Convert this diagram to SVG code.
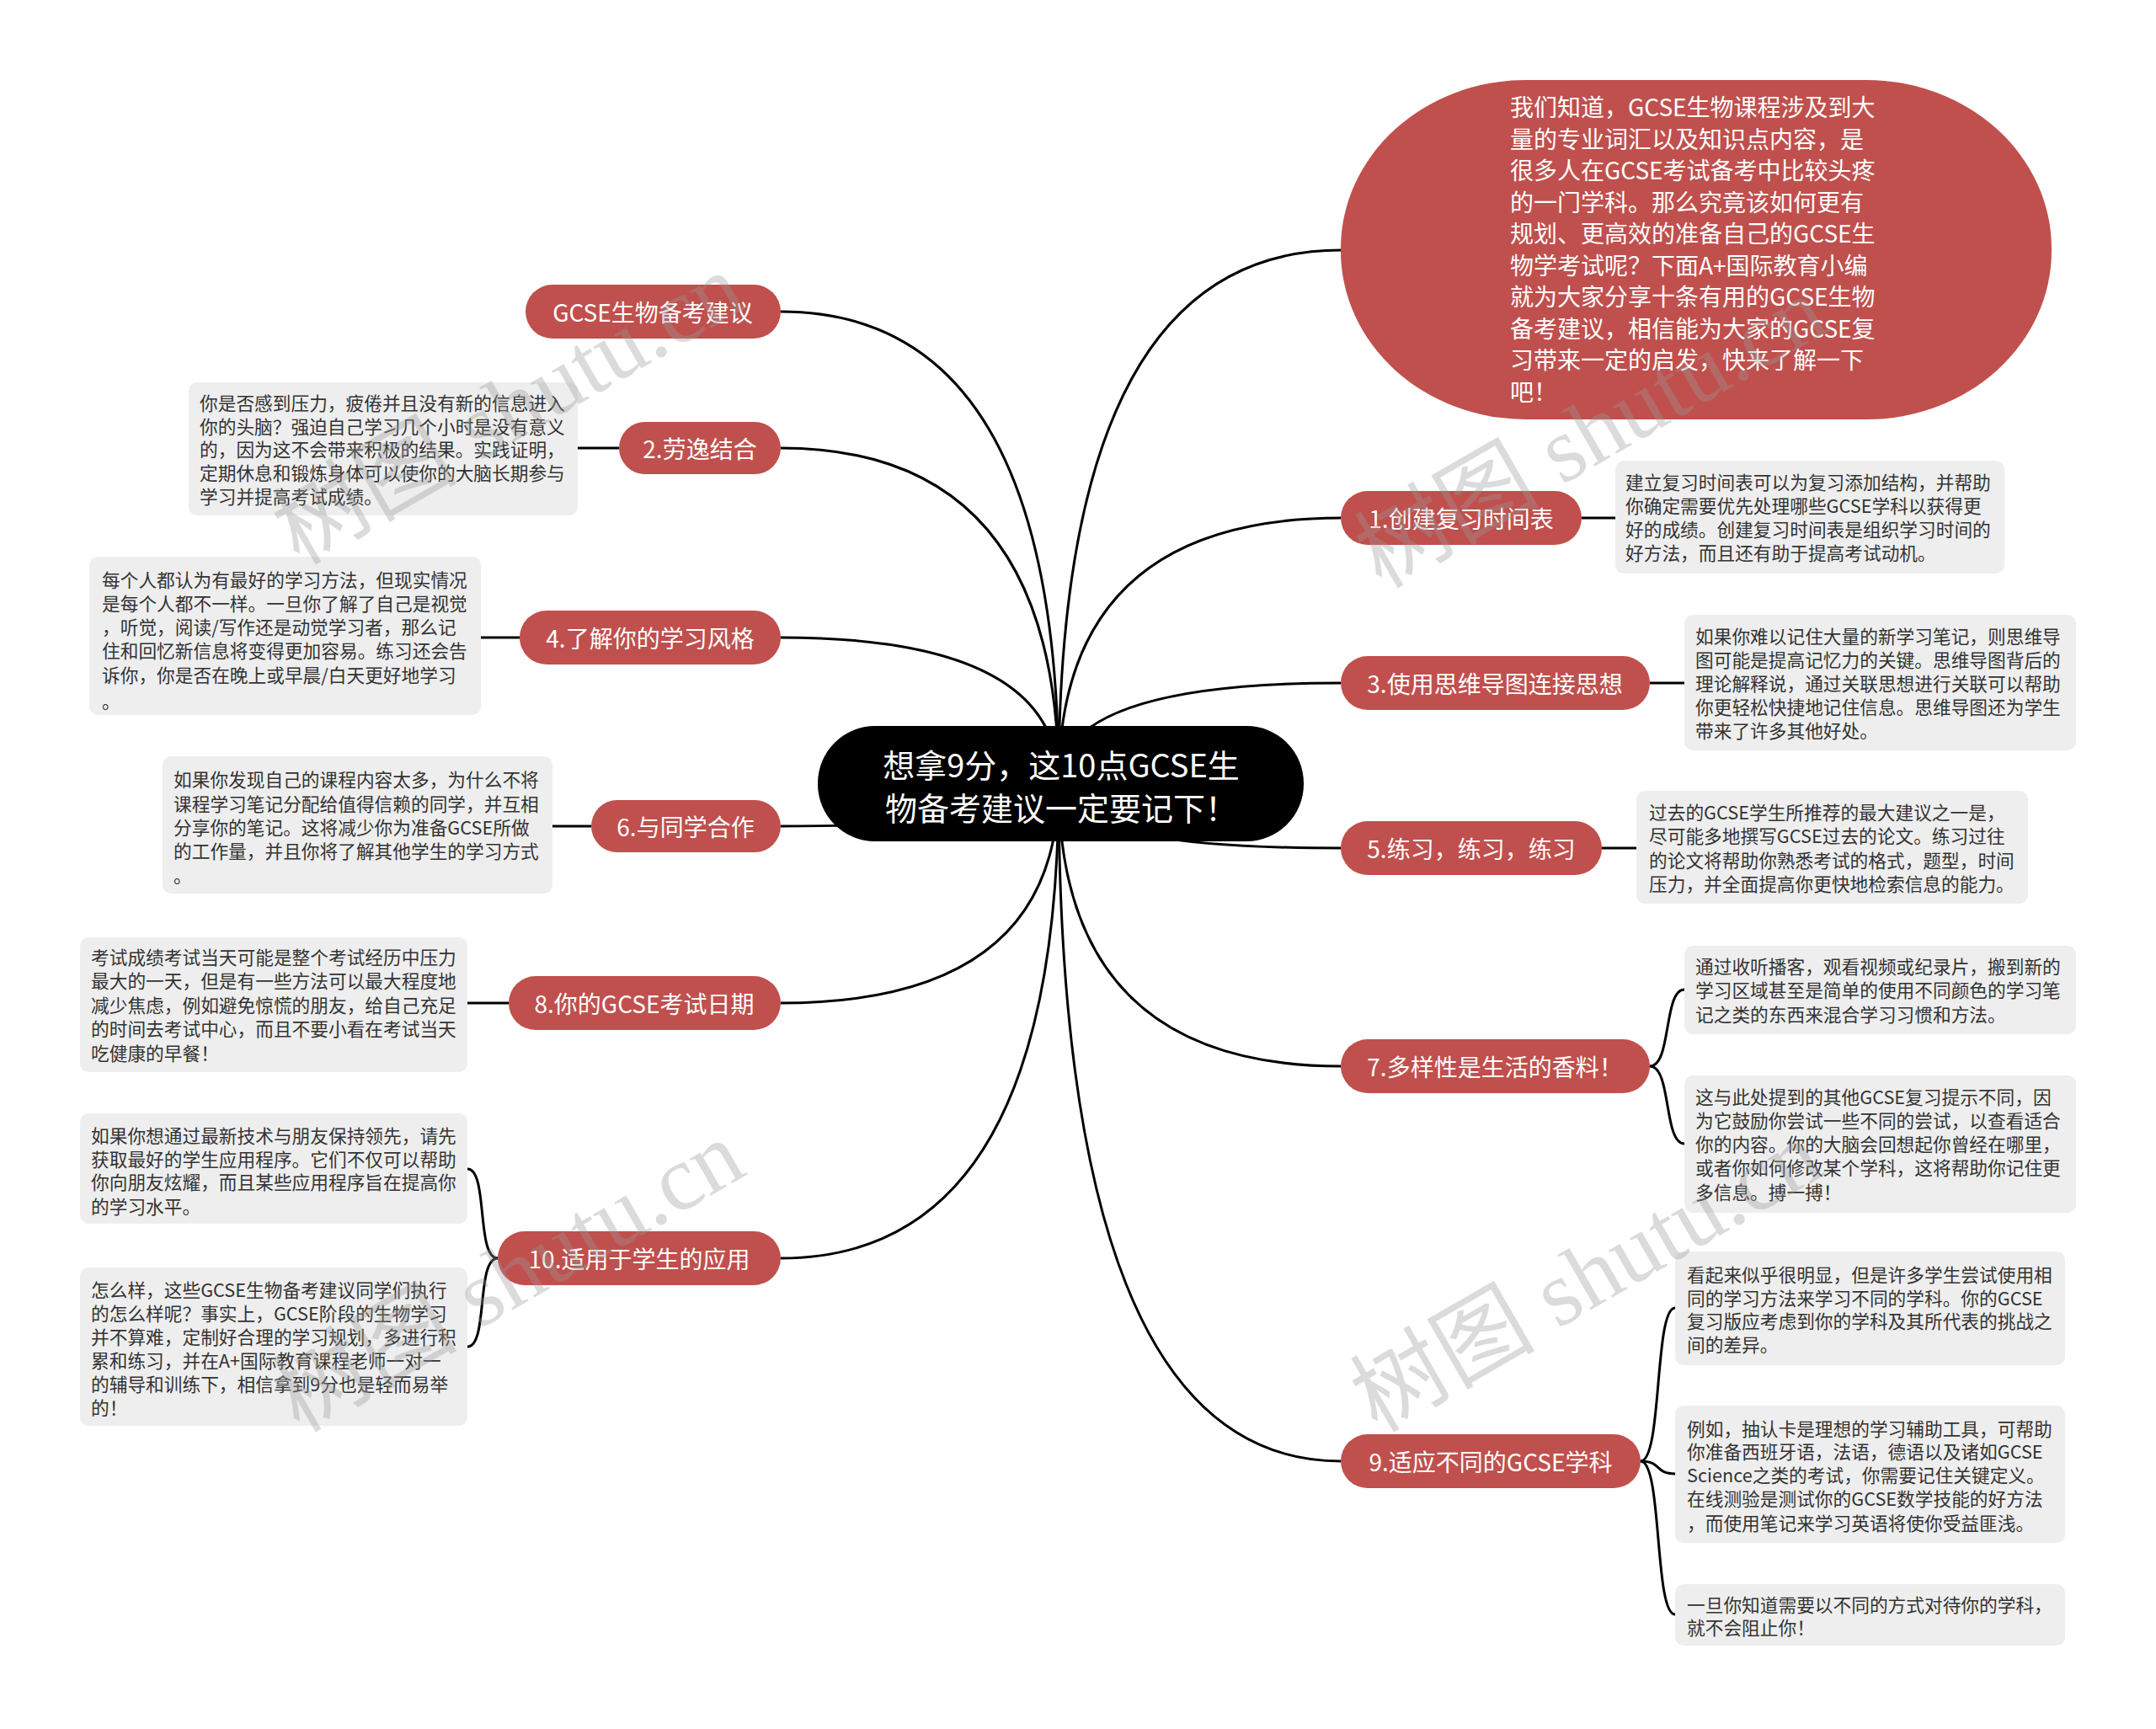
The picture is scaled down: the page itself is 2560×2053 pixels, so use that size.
<svg xmlns="http://www.w3.org/2000/svg" width="2560" height="2053" viewBox="0 0 2560 2053">
<style>
.bg{fill:#ffffff}
.conn path{fill:none;stroke:#000;stroke-width:3}
.br rect{fill:#c0504d}
.br text{fill:#fff;font-family:"Noto Sans CJK SC","Noto Sans",sans-serif;font-size:28px;text-anchor:middle;dominant-baseline:central}
.note rect{fill:#eeeeee}
.note text{fill:#333;font-family:"Noto Sans CJK SC","Noto Sans",sans-serif;font-size:21.7px;dominant-baseline:central}
.intro text{fill:#fff;font-family:"Noto Sans CJK SC","Noto Sans",sans-serif;font-size:28px;dominant-baseline:central}
.center text{fill:#fff;font-family:"Noto Sans CJK SC","Noto Sans",sans-serif;font-size:38px;text-anchor:middle;dominant-baseline:central}
.wm text{fill:#999;fill-opacity:0.35;font-family:"Liberation Serif","Noto Sans CJK SC",serif;font-size:110px}
</style>
<rect class="bg" x="0" y="0" width="2560" height="2053"/>
<g id="connectors" class="conn">
<path d="M1257 930 Q1257 297 1592 297"/>
<path d="M1257 930 Q1257 615 1592 615"/>
<path d="M1257 930 Q1257 811 1592 811"/>
<path d="M1257 930 Q1257 1007 1592 1007"/>
<path d="M1257 930 Q1257 1266 1592 1266"/>
<path d="M1257 930 Q1257 1735 1592 1735"/>
<path d="M1257 930 Q1257 370 927 370"/>
<path d="M1257 930 Q1257 532 927 532"/>
<path d="M1257 930 Q1257 757 927 757"/>
<path d="M1257 930 Q1257 981 927 981"/>
<path d="M1257 930 Q1257 1191 927 1191"/>
<path d="M1257 930 Q1257 1494 927 1494"/>
<path d="M1878 615 L1918 615"/>
<path d="M1959 811 L2000 811"/>
<path d="M1902 1007 L1943 1007"/>
<path d="M735 532 L686 532"/>
<path d="M617 757 L571 757"/>
<path d="M702 981 L656 981"/>
<path d="M604 1191 L555 1191"/>
<path d="M1959 1266 C1985 1266 1975 1175 2000 1175"/>
<path d="M1959 1266 C1985 1266 1975 1358 2000 1358"/>
<path d="M1948 1735 C1974 1735 1964 1553 1989 1553"/>
<path d="M1948 1735 C1974 1735 1964 1750 1989 1750"/>
<path d="M1948 1735 C1974 1735 1964 1917 1989 1917"/>
<path d="M591 1494 C565 1494 580 1388 555 1388"/>
<path d="M591 1494 C565 1494 580 1599 555 1599"/>
</g>
<g id="center" class="center">
<rect x="971" y="862" width="577" height="137" rx="68" ry="68" fill="#000"/>
<text x="1260" y="906">想拿9分，这10点GCSE生</text>
<text x="1260" y="957">物备考建议一定要记下！</text>
</g>
<g id="intro" class="intro">
<rect x="1592" y="95" width="844" height="403" rx="220" ry="200" fill="#c0504d"/>
<text x="1793" y="126">我们知道，GCSE生物课程涉及到大</text>
<text x="1793" y="163.5">量的专业词汇以及知识点内容，是</text>
<text x="1793" y="201">很多人在GCSE考试备考中比较头疼</text>
<text x="1793" y="238.5">的一门学科。那么究竟该如何更有</text>
<text x="1793" y="276">规划、更高效的准备自己的GCSE生</text>
<text x="1793" y="313.5">物学考试呢？下面A+国际教育小编</text>
<text x="1793" y="351">就为大家分享十条有用的GCSE生物</text>
<text x="1793" y="388.5">备考建议，相信能为大家的GCSE复</text>
<text x="1793" y="426">习带来一定的启发，快来了解一下</text>
<text x="1793" y="463.5">吧！</text>
</g>
<g id="b0" class="br"><rect x="624" y="338" width="303" height="64" rx="32"/><text x="775" y="370">GCSE生物备考建议</text></g>
<g id="b2" class="br"><rect x="735" y="501" width="192" height="62" rx="31"/><text x="831" y="532">2.劳逸结合</text></g>
<g id="b4" class="br"><rect x="617" y="725" width="310" height="64" rx="32"/><text x="772" y="757">4.了解你的学习风格</text></g>
<g id="b6" class="br"><rect x="702" y="950" width="225" height="62" rx="31"/><text x="814" y="981">6.与同学合作</text></g>
<g id="b8" class="br"><rect x="604" y="1159" width="323" height="64" rx="32"/><text x="765" y="1191">8.你的GCSE考试日期</text></g>
<g id="b10" class="br"><rect x="591" y="1462" width="336" height="64" rx="32"/><text x="759" y="1494">10.适用于学生的应用</text></g>
<g id="b1" class="br"><rect x="1592" y="583" width="286" height="64" rx="32"/><text x="1735" y="615">1.创建复习时间表</text></g>
<g id="b3" class="br"><rect x="1592" y="779" width="367" height="64" rx="32"/><text x="1775" y="811">3.使用思维导图连接思想</text></g>
<g id="b5" class="br"><rect x="1592" y="975" width="310" height="64" rx="32"/><text x="1747" y="1007">5.练习，练习，练习</text></g>
<g id="b7" class="br"><rect x="1592" y="1234" width="367" height="64" rx="32"/><text x="1775" y="1266">7.多样性是生活的香料！</text></g>
<g id="b9" class="br"><rect x="1592" y="1703" width="356" height="64" rx="32"/><text x="1770" y="1735">9.适应不同的GCSE学科</text></g>
<g id="n2" class="note"><rect x="224" y="454" width="462" height="158" rx="10"/>
<text x="237" y="477">你是否感到压力，疲倦并且没有新的信息进入</text>
<text x="237" y="505">你的头脑？强迫自己学习几个小时是没有意义</text>
<text x="237" y="532">的，因为这不会带来积极的结果。实践证明，</text>
<text x="237" y="560">定期休息和锻炼身体可以使你的大脑长期参与</text>
<text x="237" y="588">学习并提高考试成绩。</text></g>
<g id="n4" class="note"><rect x="106" y="661" width="465" height="188" rx="10"/>
<text x="121" y="687">每个人都认为有最好的学习方法，但现实情况</text>
<text x="121" y="715">是每个人都不一样。一旦你了解了自己是视觉</text>
<text x="121" y="743">，听觉，阅读/写作还是动觉学习者，那么记</text>
<text x="121" y="771">住和回忆新信息将变得更加容易。练习还会告</text>
<text x="121" y="800">诉你，你是否在晚上或早晨/白天更好地学习</text>
<text x="121" y="831">。</text></g>
<g id="n6" class="note"><rect x="193" y="898" width="463" height="163" rx="10"/>
<text x="206" y="924">如果你发现自己的课程内容太多，为什么不将</text>
<text x="206" y="953">课程学习笔记分配给值得信赖的同学，并互相</text>
<text x="206" y="981">分享你的笔记。这将减少你为准备GCSE所做</text>
<text x="206" y="1009">的工作量，并且你将了解其他学生的学习方式</text>
<text x="206" y="1038">。</text></g>
<g id="n8" class="note"><rect x="95" y="1113" width="460" height="160" rx="10"/>
<text x="108" y="1135">考试成绩考试当天可能是整个考试经历中压力</text>
<text x="108" y="1163">最大的一天，但是有一些方法可以最大程度地</text>
<text x="108" y="1192">减少焦虑，例如避免惊慌的朋友，给自己充足</text>
<text x="108" y="1220">的时间去考试中心，而且不要小看在考试当天</text>
<text x="108" y="1249">吃健康的早餐！</text></g>
<g id="n10a" class="note"><rect x="95" y="1322" width="460" height="131" rx="10"/>
<text x="108" y="1347">如果你想通过最新技术与朋友保持领先，请先</text>
<text x="108" y="1375">获取最好的学生应用程序。它们不仅可以帮助</text>
<text x="108" y="1402">你向朋友炫耀，而且某些应用程序旨在提高你</text>
<text x="108" y="1431">的学习水平。</text></g>
<g id="n10b" class="note"><rect x="95" y="1505" width="460" height="188" rx="10"/>
<text x="108" y="1530">怎么样，这些GCSE生物备考建议同学们执行</text>
<text x="108" y="1558">的怎么样呢？事实上，GCSE阶段的生物学习</text>
<text x="108" y="1586">并不算难，定制好合理的学习规划，多进行积</text>
<text x="108" y="1614">累和练习，并在A+国际教育课程老师一对一</text>
<text x="108" y="1642">的辅导和训练下，相信拿到9分也是轻而易举</text>
<text x="108" y="1670">的！</text></g>
<g id="n1" class="note"><rect x="1918" y="547" width="462" height="134" rx="10"/>
<text x="1930" y="571">建立复习时间表可以为复习添加结构，并帮助</text>
<text x="1930" y="599">你确定需要优先处理哪些GCSE学科以获得更</text>
<text x="1930" y="627">好的成绩。创建复习时间表是组织学习时间的</text>
<text x="1930" y="655">好方法，而且还有助于提高考试动机。</text></g>
<g id="n3" class="note"><rect x="2000" y="730" width="465" height="161" rx="10"/>
<text x="2013" y="754">如果你难以记住大量的新学习笔记，则思维导</text>
<text x="2013" y="782">图可能是提高记忆力的关键。思维导图背后的</text>
<text x="2013" y="810">理论解释说，通过关联思想进行关联可以帮助</text>
<text x="2013" y="838">你更轻松快捷地记住信息。思维导图还为学生</text>
<text x="2013" y="866">带来了许多其他好处。</text></g>
<g id="n5" class="note"><rect x="1943" y="939" width="465" height="134" rx="10"/>
<text x="1958" y="963">过去的GCSE学生所推荐的最大建议之一是，</text>
<text x="1958" y="991">尽可能多地撰写GCSE过去的论文。练习过往</text>
<text x="1958" y="1020">的论文将帮助你熟悉考试的格式，题型，时间</text>
<text x="1958" y="1048">压力，并全面提高你更快地检索信息的能力。</text></g>
<g id="n7a" class="note"><rect x="2000" y="1123" width="465" height="105" rx="10"/>
<text x="2013" y="1146">通过收听播客，观看视频或纪录片，搬到新的</text>
<text x="2013" y="1174">学习区域甚至是简单的使用不同颜色的学习笔</text>
<text x="2013" y="1203">记之类的东西来混合学习习惯和方法。</text></g>
<g id="n7b" class="note"><rect x="2000" y="1277" width="465" height="163" rx="10"/>
<text x="2013" y="1301">这与此处提到的其他GCSE复习提示不同，因</text>
<text x="2013" y="1329">为它鼓励你尝试一些不同的尝试，以查看适合</text>
<text x="2013" y="1357">你的内容。你的大脑会回想起你曾经在哪里，</text>
<text x="2013" y="1385">或者你如何修改某个学科，这将帮助你记住更</text>
<text x="2013" y="1414">多信息。搏一搏！</text></g>
<g id="n9a" class="note"><rect x="1989" y="1486" width="463" height="135" rx="10"/>
<text x="2003" y="1512">看起来似乎很明显，但是许多学生尝试使用相</text>
<text x="2003" y="1540">同的学习方法来学习不同的学科。你的GCSE</text>
<text x="2003" y="1567">复习版应考虑到你的学科及其所代表的挑战之</text>
<text x="2003" y="1595">间的差异。</text></g>
<g id="n9b" class="note"><rect x="1989" y="1669" width="463" height="163" rx="10"/>
<text x="2003" y="1695">例如，抽认卡是理想的学习辅助工具，可帮助</text>
<text x="2003" y="1722">你准备西班牙语，法语，德语以及诸如GCSE</text>
<text x="2003" y="1750">Science之类的考试，你需要记住关键定义。</text>
<text x="2003" y="1778">在线测验是测试你的GCSE数学技能的好方法</text>
<text x="2003" y="1807">，而使用笔记来学习英语将使你受益匪浅。</text></g>
<g id="n9c" class="note"><rect x="1989" y="1881" width="463" height="73" rx="10"/>
<text x="2003" y="1904">一旦你知道需要以不同的方式对待你的学科，</text>
<text x="2003" y="1931">就不会阻止你！</text></g>
<g id="watermarks" class="wm">
<text transform="translate(355 672) rotate(-30)">树图 shutu.cn</text>
<text transform="translate(1640 700) rotate(-30)">树图 shutu.cn</text>
<text transform="translate(355 1702) rotate(-30)">树图 shutu.cn</text>
<text transform="translate(1635 1702) rotate(-30)">树图 shutu.cn</text>
</g>
</svg>
